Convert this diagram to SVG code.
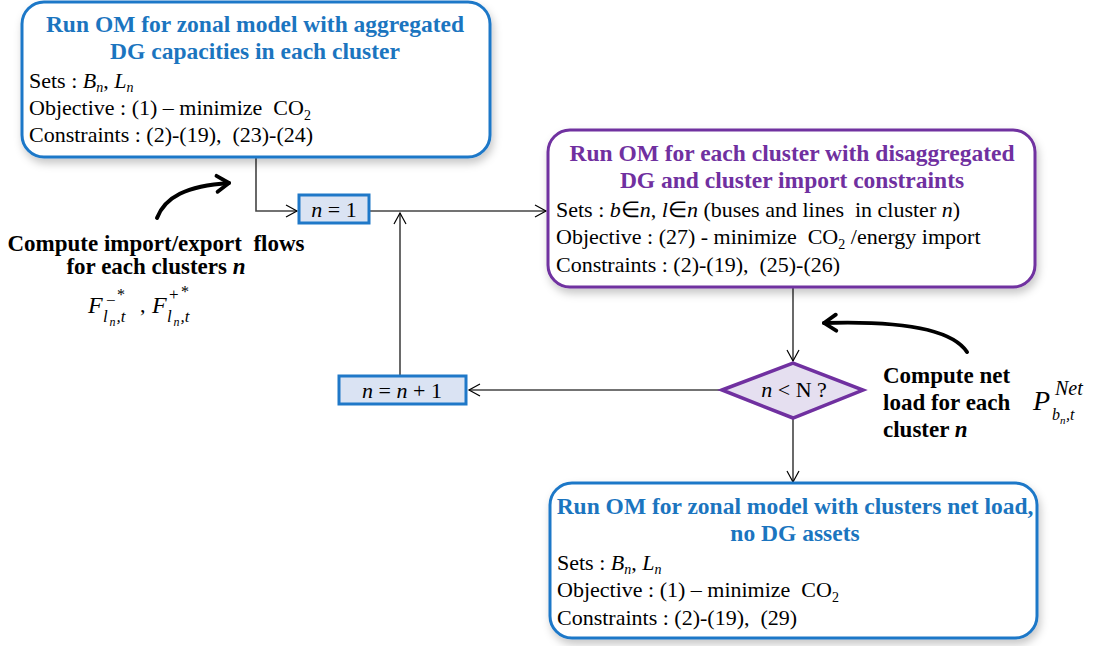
<svg xmlns="http://www.w3.org/2000/svg" width="1094" height="646" viewBox="0 0 1094 646" font-family="'Liberation Serif', 'Times New Roman', serif">
<defs>
<filter id="sh" x="-10%" y="-10%" width="120%" height="130%">
<feDropShadow dx="2" dy="5" stdDeviation="4" flood-color="#000" flood-opacity="0.22"/>
</filter>
<marker id="ah" markerWidth="14" markerHeight="14" refX="12" refY="7" orient="auto" markerUnits="userSpaceOnUse">
<path d="M1,1 L12,7 L1,13" fill="none" stroke="#000" stroke-width="1.2"/>
</marker>
<marker id="bh" markerWidth="22" markerHeight="22" refX="15" refY="11" orient="auto" markerUnits="userSpaceOnUse">
<path d="M3,3 L15,11 L3,19" fill="none" stroke="#000" stroke-width="3.8" stroke-linecap="round" stroke-linejoin="round"/>
</marker>
</defs>
<style>
text{font-family:'Liberation Serif','Times New Roman',serif;fill:#000}
.tb{font-weight:bold;font-size:23.5px;fill:#1b75bf;text-anchor:middle}
.tp{font-weight:bold;font-size:23.5px;fill:#7030a0;text-anchor:middle}
.bd{font-size:22px}
.lb{font-weight:bold;font-size:23px}
.i{font-style:italic}
.box{fill:#fff;stroke-width:3}
.bl{stroke:#1f78c8}
.pu{stroke:#7030a0}
.sm{fill:#dae3f3;stroke:#1f78c8;stroke-width:3}
.cn{fill:none;stroke:#444;stroke-width:1.6}
</style>

<g id="connectors">
<polyline class="cn" points="256,157 256,211 297,211" marker-end="url(#ah)"/>
<line class="cn" x1="369" y1="211" x2="546" y2="211" marker-end="url(#ah)"/>
<line class="cn" x1="400" y1="375" x2="400" y2="213" marker-end="url(#ah)"/>
<line class="cn" x1="793" y1="287" x2="793" y2="361" marker-end="url(#ah)"/>
<line class="cn" x1="722" y1="390" x2="469" y2="390" marker-end="url(#ah)"/>
<line class="cn" x1="793" y1="419" x2="793" y2="482" marker-end="url(#ah)"/>
<path d="M157,218 C165,197 186,186 229,183" fill="none" stroke="#000" stroke-width="4" stroke-linecap="round" marker-end="url(#bh)"/>
<path d="M967,352 C950,326 890,321 824,323" fill="none" stroke="#000" stroke-width="4" stroke-linecap="round" marker-end="url(#bh)"/>
</g>

<g id="box1">
<rect class="box bl" x="22" y="2" width="468" height="155" rx="22" filter="url(#sh)"/>
<text class="tb" x="255" y="32">Run OM for zonal model with aggregated</text>
<text class="tb" x="255" y="59">DG capacities in each cluster</text>
<text class="bd" x="29" y="88">Sets : <tspan class="i">B</tspan><tspan class="i" font-size="14" dy="4">n</tspan><tspan dy="-4">, </tspan><tspan class="i">L</tspan><tspan class="i" font-size="14" dy="4">n</tspan></text>
<text class="bd" x="29" y="115">Objective : (1) – minimize &#160;CO<tspan font-size="14" dy="5">2</tspan></text>
<text class="bd" x="29" y="142">Constraints : (2)-(19), &#160;(23)-(24)</text>
</g>

<g id="box2">
<rect class="box pu" x="548" y="130" width="487" height="157" rx="22" filter="url(#sh)"/>
<text class="tp" x="792" y="161">Run OM for each cluster with disaggregated</text>
<text class="tp" x="792" y="188">DG and cluster import constraints</text>
<text class="bd" x="556" y="217">Sets : <tspan class="i">b</tspan>∈<tspan class="i">n</tspan>, <tspan class="i">l</tspan>∈<tspan class="i">n</tspan> (buses and lines &#160;in cluster <tspan class="i">n</tspan>)</text>
<text class="bd" x="556" y="244">Objective : (27) - minimize &#160;CO<tspan font-size="14" dy="5">2</tspan><tspan dy="-5"> /energy import</tspan></text>
<text class="bd" x="556" y="272">Constraints : (2)-(19), &#160;(25)-(26)</text>
</g>

<g id="box3">
<rect class="box bl" x="550" y="483" width="487" height="155" rx="22" filter="url(#sh)"/>
<text class="tb" x="795" y="514">Run OM for zonal model with clusters net load,</text>
<text class="tb" x="795" y="541">no DG assets</text>
<text class="bd" x="557" y="570">Sets : <tspan class="i">B</tspan><tspan class="i" font-size="14" dy="4">n</tspan><tspan dy="-4">, </tspan><tspan class="i">L</tspan><tspan class="i" font-size="14" dy="4">n</tspan></text>
<text class="bd" x="557" y="597">Objective : (1) – minimize &#160;CO<tspan font-size="14" dy="5">2</tspan></text>
<text class="bd" x="557" y="625">Constraints : (2)-(19), &#160;(29)</text>
</g>

<g id="n1">
<rect class="sm" x="299" y="195" width="70" height="28"/>
<text class="bd" x="334" y="217" text-anchor="middle" font-size="22"><tspan class="i">n</tspan> = 1</text>
</g>

<g id="nn1">
<rect class="sm" x="339" y="376" width="127" height="28"/>
<text class="bd" x="402" y="398" text-anchor="middle" font-size="22"><tspan class="i">n</tspan> = <tspan class="i">n</tspan> + 1</text>
</g>

<g id="decision">
<polygon points="722,390 793,363 863,390 793,418" fill="#e5dff0" stroke="#7030a0" stroke-width="3.5"/>
<text class="bd" x="794" y="397" text-anchor="middle" font-size="21"><tspan class="i">n</tspan> &lt; N ?</text>
</g>

<g id="label-flows">
<text class="lb" x="156" y="251" text-anchor="middle">Compute import/export &#160;flows</text>
<text class="lb" x="156" y="274" text-anchor="middle">for each clusters <tspan class="i">n</tspan></text>
<text class="i" x="88" y="313" font-size="24">F</text>
<text x="106" y="306" font-size="17">−</text>
<text x="117" y="300" font-size="16">*</text>
<text class="i" x="103" y="322" font-size="17">l</text>
<text class="i" x="109.5" y="326" font-size="12">n</text>
<text class="i" x="116.5" y="322" font-size="17">,t</text>
<text x="140" y="312" font-size="22">,</text>
<text class="i" x="152" y="313" font-size="24">F</text>
<text x="169" y="300" font-size="17">+</text>
<text x="181" y="297" font-size="16">*</text>
<text class="i" x="167" y="322" font-size="17">l</text>
<text class="i" x="173.5" y="326" font-size="12">n</text>
<text class="i" x="180.5" y="322" font-size="17">,t</text>
</g>

<g id="label-netload">
<text class="lb" x="883" y="383">Compute net</text>
<text class="lb" x="883" y="410">load for each</text>
<text class="lb" x="883" y="437">cluster <tspan class="i">n</tspan></text>
<text class="i" x="1033" y="410" font-size="28">P</text>
<text class="i" x="1055" y="395" font-size="20">Net</text>
<text class="i" x="1052" y="420" font-size="16">b</text>
<text class="i" x="1060" y="424" font-size="11">n</text>
<text class="i" x="1066" y="420" font-size="16">,t</text>
</g>
</svg>
